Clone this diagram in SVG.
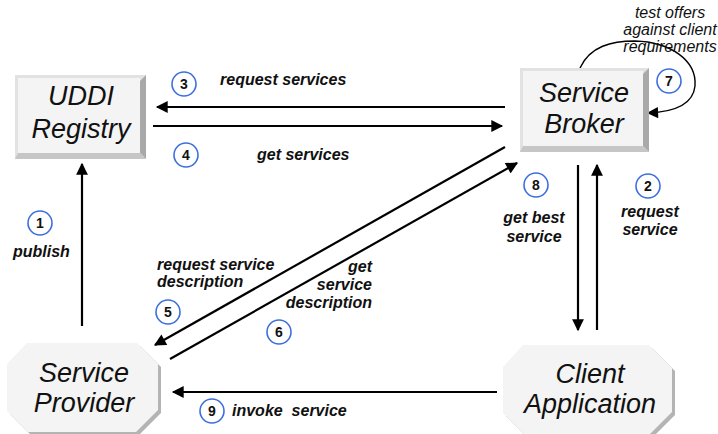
<svg xmlns="http://www.w3.org/2000/svg" width="718" height="434" viewBox="0 0 718 434">
<defs>
<style>
.face{fill:#f4f4f4;}
.bvr{fill:#a9a9a9;}
.bvb{fill:#c6c6c6;}
.bvl{fill:#e2e2e2;}
.shadow{fill:#b4b4b4;}
.node{font-family:"Liberation Sans",Arial,sans-serif;font-style:italic;font-size:27px;fill:#111;text-anchor:middle;}
.lbl{font-family:"Liberation Sans",Arial,sans-serif;font-style:italic;font-weight:bold;font-size:16px;fill:#111;}
.note{font-family:"Liberation Sans",Arial,sans-serif;font-style:italic;font-size:16px;fill:#111;text-anchor:middle;}
.num circle{fill:#fff;stroke:#3d6fdc;stroke-width:1.6;}
.num text{font-family:"Liberation Sans",Arial,sans-serif;font-weight:bold;font-size:14px;fill:#111;text-anchor:middle;}
.ln{stroke:#000;stroke-width:2.2;fill:none;marker-end:url(#ah);}
.lp{stroke:#000;stroke-width:1.4;fill:none;marker-end:url(#ah2);}
</style>
<marker id="ah" viewBox="0 0 10 10" refX="9" refY="5" markerWidth="6" markerHeight="5.4" orient="auto" markerUnits="strokeWidth">
<path d="M0,0 L10,5 L0,10 z" fill="#000"/>
</marker>
<marker id="ah2" viewBox="0 0 10 10" refX="9" refY="5" markerWidth="9" markerHeight="8" orient="auto" markerUnits="strokeWidth">
<path d="M0,0 L10,5 L0,10 z" fill="#000"/>
</marker>
</defs>
<rect width="718" height="434" fill="#fff"/>

<g id="connectors">
<line class="ln" x1="505" y1="107" x2="157" y2="107"/>
<line class="ln" x1="153" y1="126" x2="502" y2="126"/>
<line class="ln" x1="82" y1="326" x2="82" y2="164"/>
<line class="ln" x1="597" y1="330" x2="597" y2="165"/>
<line class="ln" x1="578" y1="165" x2="578" y2="330"/>
<line class="ln" x1="505" y1="147" x2="155" y2="345"/>
<line class="ln" x1="170" y1="359" x2="517" y2="163"/>
<line class="ln" x1="497" y1="392" x2="173" y2="392"/>
<path class="lp" d="M580,68 C590,46 612,41 635,41 C670,42 697,60 695,86 C693,106 672,112 648,113"/>
</g>

<g id="uddi">
<rect class="bvl" x="15" y="75" width="131" height="84"/>
<polygon class="bvr" points="140,81 146,75 146,159 140,153"/>
<polygon class="bvb" points="18,153 140,153 146,159 15,159"/>
<rect class="face" x="18" y="78" width="122" height="75"/>
<text class="node" x="81" y="105">UDDI</text>
<text class="node" x="81" y="138">Registry</text>
</g>

<g id="broker">
<rect class="bvl" x="520" y="68" width="129" height="84"/>
<polygon class="bvr" points="643,74 649,68 649,152 643,146"/>
<polygon class="bvb" points="523,146 643,146 649,152 520,152"/>
<rect class="face" x="523" y="71" width="120" height="75"/>
<text class="node" x="584" y="102">Service</text>
<text class="node" x="584" y="133">Broker</text>
</g>

<g id="provider">
<polygon class="shadow" points="30,346 140,346 161,367 161,413 139,435 31,435 10,414 10,367"/>
<polygon class="face" points="27,343 137,343 158,364 158,410 136,432 28,432 7,411 7,364"/>
<text class="node" x="84" y="382">Service</text>
<text class="node" x="84" y="412">Provider</text>
</g>

<g id="client">
<polygon class="shadow" points="526,348 652,348 675,371 675,415 653,437 527,437 506,416 506,370"/>
<polygon class="face" points="523,345 649,345 672,368 672,412 650,434 524,434 503,413 503,367"/>
<text class="node" x="590" y="383">Client</text>
<text class="node" x="590" y="413">Application</text>
</g>

<g id="labels">
<text class="lbl" x="220" y="85">request services</text>
<text class="lbl" x="257" y="160">get services</text>
<text class="lbl" x="13" y="257">publish</text>
<text class="lbl" x="534" y="223" text-anchor="middle">get best</text>
<text class="lbl" x="534" y="242" text-anchor="middle">service</text>
<text class="lbl" x="650" y="217" text-anchor="middle">request</text>
<text class="lbl" x="650" y="235" text-anchor="middle">service</text>
<text class="lbl" x="157" y="270">request service</text>
<text class="lbl" x="157" y="287">description</text>
<text class="lbl" x="372" y="272" text-anchor="end">get</text>
<text class="lbl" x="372" y="290" text-anchor="end">service</text>
<text class="lbl" x="372" y="308" text-anchor="end">description</text>
<text class="lbl" x="232" y="416" style="white-space:pre">invoke  service</text>
<text class="note" x="670" y="18">test offers</text>
<text class="note" x="670" y="35">against client</text>
<text class="note" x="670" y="52">requirements</text>
</g>

<g id="numbers" class="num">
<g id="n1"><circle cx="40" cy="223" r="12"/><text x="40" y="228">1</text></g>
<g id="n2"><circle cx="648" cy="186" r="12"/><text x="648" y="191">2</text></g>
<g id="n3"><circle cx="184" cy="84" r="12"/><text x="184" y="89">3</text></g>
<g id="n4"><circle cx="186" cy="155" r="12"/><text x="186" y="160">4</text></g>
<g id="n5"><circle cx="168" cy="312" r="12"/><text x="168" y="317">5</text></g>
<g id="n6"><circle cx="279" cy="332" r="12"/><text x="279" y="337">6</text></g>
<g id="n7"><circle cx="669" cy="81" r="12"/><text x="669" y="86">7</text></g>
<g id="n8"><circle cx="536" cy="185" r="12"/><text x="536" y="190">8</text></g>
<g id="n9"><circle cx="212" cy="411" r="12"/><text x="212" y="416">9</text></g>
</g>
</svg>
